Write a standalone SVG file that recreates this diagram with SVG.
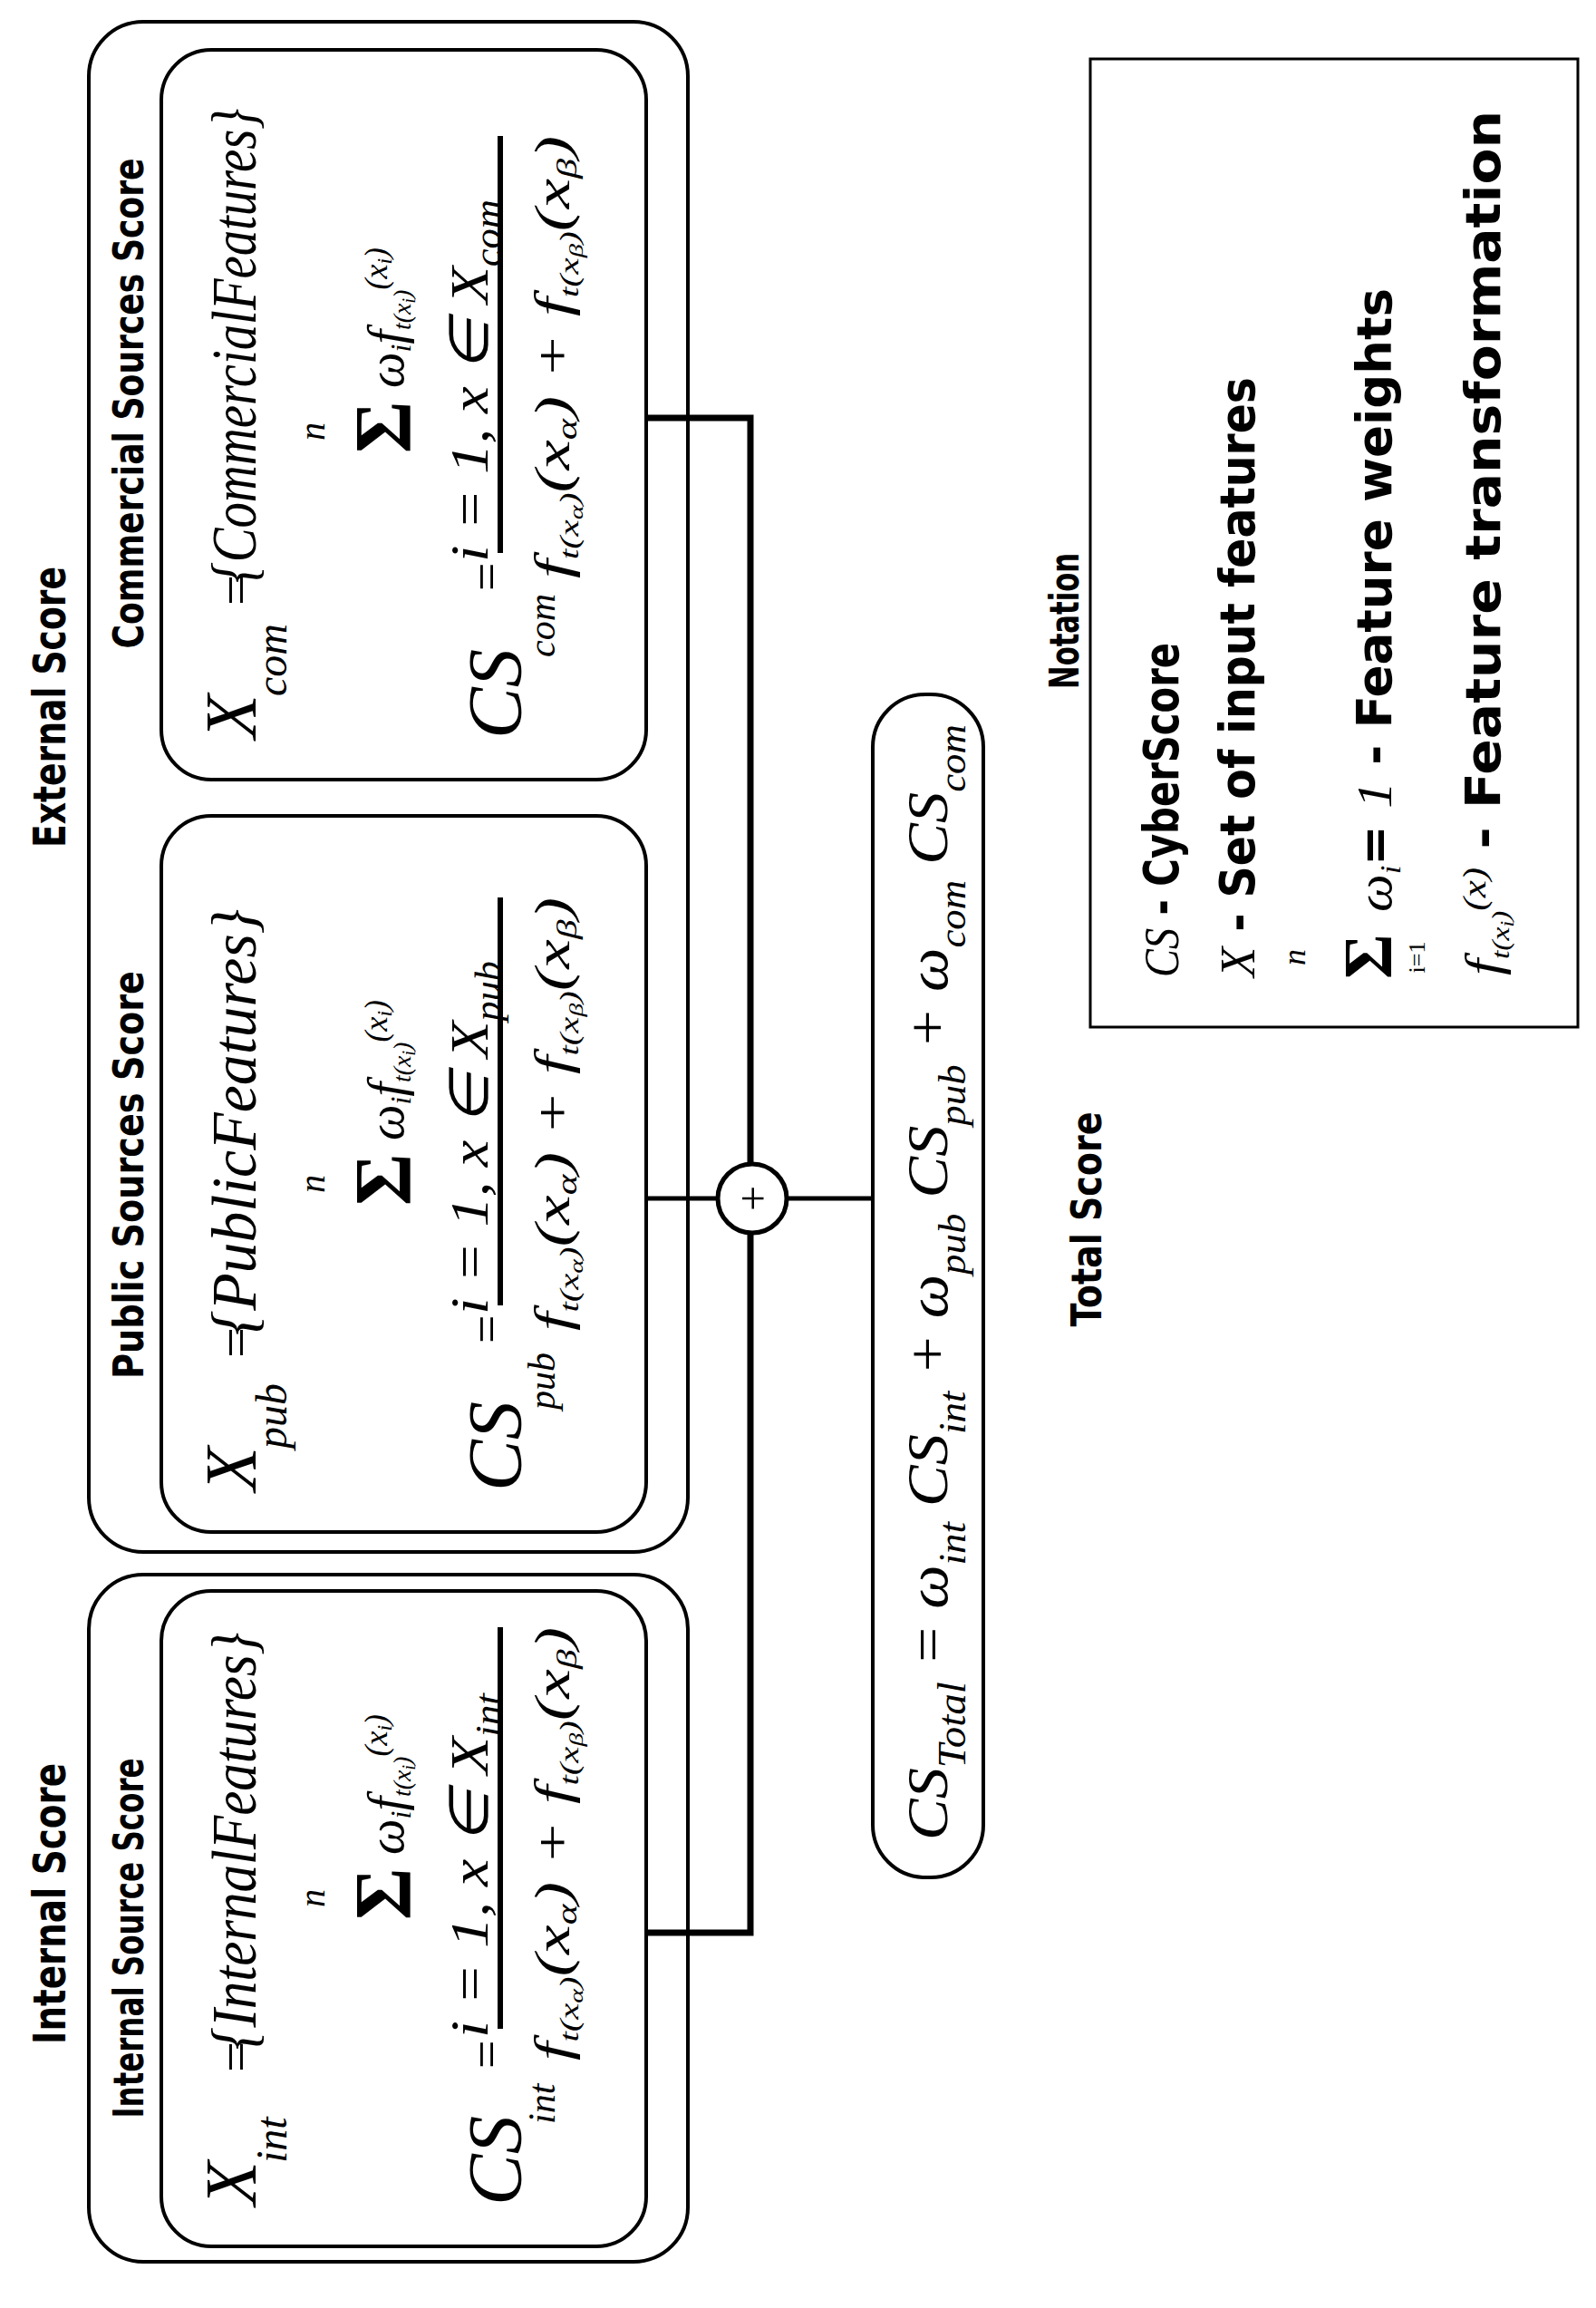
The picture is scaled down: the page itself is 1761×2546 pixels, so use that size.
<svg xmlns="http://www.w3.org/2000/svg" width="1761" height="2546" viewBox="0 0 1761 2546">
<style>
.box{fill:none;stroke:#000;stroke-width:4}
.wire{fill:none;stroke:#000;stroke-width:7}
.thin{fill:none;stroke:#000;stroke-width:5}
.m{font-family:"Liberation Serif",serif;font-style:italic;fill:#000}
.r{font-family:"Liberation Serif",serif;fill:#000}
.t{font-family:"Liberation Sans Narrow","DejaVu Sans Condensed","Liberation Sans",sans-serif;font-weight:bold;fill:#000}
</style>
<rect width="1761" height="2546" fill="#fff"/>
<g transform="translate(0,2546) rotate(-90)">
<g id="titles">
<text class="t" x="446" y="72" font-size="50" text-anchor="middle" textLength="310" lengthAdjust="spacingAndGlyphs">Internal Score</text>
<text class="t" x="1766" y="72" font-size="50" text-anchor="middle" textLength="310" lengthAdjust="spacingAndGlyphs">External Score</text>
<text class="t" x="1201" y="1215" font-size="46" text-anchor="middle" textLength="237" lengthAdjust="spacingAndGlyphs">Total Score</text>
</g>
<g id="internal">
<rect class="box" x="51" y="98" width="758" height="661" rx="60"/>
<text class="t" x="408" y="158" font-size="46" text-anchor="middle" textLength="397" lengthAdjust="spacingAndGlyphs">Internal Source Score</text>
<rect class="box" x="68" y="178" width="723" height="535" rx="55"/>
<g transform="translate(68,0)">
<text class="m" x="45" y="282" font-size="80">X</text>
<text class="m" x="92" y="316" font-size="48">int</text>
<text class="r" x="192" y="280" font-size="60">=</text>
<text class="m" x="217" y="282" font-size="70" textLength="460" lengthAdjust="spacingAndGlyphs">{InternalFeatures}</text>
<text class="m" x="384" y="358" font-size="40" text-anchor="middle">n</text>
<text class="r" x="360" y="452" font-size="88" font-weight="bold">Σ</text>
<text class="m" x="432" y="445" font-size="56">ω<tspan font-size="32" dy="8">i</tspan><tspan font-size="56" dy="-8">f</tspan><tspan font-size="28" dy="8">t(x</tspan><tspan font-size="20" dy="5">i</tspan><tspan font-size="28" dy="-5">)</tspan><tspan font-size="36" dy="-26">(x</tspan><tspan font-size="24" dy="5">i</tspan><tspan font-size="36" dy="-5">)</tspan></text>
<text class="m" x="230" y="538" font-size="60" textLength="380" lengthAdjust="spacingAndGlyphs">i = 1, x ∈ X<tspan font-size="40" dy="14">int</tspan></text>
<line x1="240" y1="552" x2="683" y2="552" stroke="#000" stroke-width="6"/>
<text class="m" x="205" y="628" font-size="54" textLength="478" lengthAdjust="spacingAndGlyphs">f<tspan font-size="30" dy="10">t(x</tspan><tspan font-size="22" dy="5">α</tspan><tspan font-size="30" dy="-5">)</tspan><tspan font-size="54" dy="-10">(x</tspan><tspan font-size="32" dy="8">α</tspan><tspan font-size="54" dy="-8">) + f</tspan><tspan font-size="30" dy="10">t(x</tspan><tspan font-size="22" dy="5">β</tspan><tspan font-size="30" dy="-5">)</tspan><tspan font-size="54" dy="-10">(x</tspan><tspan font-size="32" dy="8">β</tspan><tspan font-size="54" dy="-8">)</tspan></text>
<text class="m" x="45" y="575" font-size="85">CS</text>
<text class="m" x="135" y="612" font-size="42">int</text>
<text class="r" x="196" y="556" font-size="56">=</text>
</g>
</g>
<g id="external">
<rect class="box" x="834" y="98" width="1688" height="661" rx="60"/>
</g>
<g id="public">
<text class="t" x="1250" y="158" font-size="46" text-anchor="middle" textLength="450" lengthAdjust="spacingAndGlyphs">Public Sources Score</text>
<rect class="box" x="856" y="178" width="790" height="535" rx="55"/>
<g transform="translate(856,0)">
<text class="m" x="45" y="282" font-size="80">X</text>
<text class="m" x="92" y="316" font-size="48">pub</text>
<text class="r" x="192" y="280" font-size="60">=</text>
<text class="m" x="217" y="282" font-size="70" textLength="470" lengthAdjust="spacingAndGlyphs">{PublicFeatures}</text>
<text class="m" x="384" y="358" font-size="40" text-anchor="middle">n</text>
<text class="r" x="360" y="452" font-size="88" font-weight="bold">Σ</text>
<text class="m" x="432" y="445" font-size="56">ω<tspan font-size="32" dy="8">i</tspan><tspan font-size="56" dy="-8">f</tspan><tspan font-size="28" dy="8">t(x</tspan><tspan font-size="20" dy="5">i</tspan><tspan font-size="28" dy="-5">)</tspan><tspan font-size="36" dy="-26">(x</tspan><tspan font-size="24" dy="5">i</tspan><tspan font-size="36" dy="-5">)</tspan></text>
<text class="m" x="240" y="538" font-size="60" textLength="390" lengthAdjust="spacingAndGlyphs">i = 1, x ∈ X<tspan font-size="40" dy="14">pub</tspan></text>
<line x1="250" y1="552" x2="700" y2="552" stroke="#000" stroke-width="6"/>
<text class="m" x="222" y="628" font-size="54" textLength="478" lengthAdjust="spacingAndGlyphs">f<tspan font-size="30" dy="10">t(x</tspan><tspan font-size="22" dy="5">α</tspan><tspan font-size="30" dy="-5">)</tspan><tspan font-size="54" dy="-10">(x</tspan><tspan font-size="32" dy="8">α</tspan><tspan font-size="54" dy="-8">) + f</tspan><tspan font-size="30" dy="10">t(x</tspan><tspan font-size="22" dy="5">β</tspan><tspan font-size="30" dy="-5">)</tspan><tspan font-size="54" dy="-10">(x</tspan><tspan font-size="32" dy="8">β</tspan><tspan font-size="54" dy="-8">)</tspan></text>
<text class="m" x="45" y="575" font-size="85">CS</text>
<text class="m" x="135" y="612" font-size="42">pub</text>
<text class="r" x="208" y="556" font-size="56">=</text>
</g>
</g>
<g id="commercial">
<text class="t" x="2101" y="158" font-size="46" text-anchor="middle" textLength="541" lengthAdjust="spacingAndGlyphs">Commercial Sources Score</text>
<rect class="box" x="1686" y="178" width="805" height="535" rx="55"/>
<g transform="translate(1686,0)">
<text class="m" x="45" y="282" font-size="80">X</text>
<text class="m" x="92" y="316" font-size="48">com</text>
<text class="r" x="192" y="280" font-size="60">=</text>
<text class="m" x="217" y="282" font-size="70" textLength="523" lengthAdjust="spacingAndGlyphs">{CommercialFeatures}</text>
<text class="m" x="384" y="358" font-size="40" text-anchor="middle">n</text>
<text class="r" x="360" y="452" font-size="88" font-weight="bold">Σ</text>
<text class="m" x="432" y="445" font-size="56">ω<tspan font-size="32" dy="8">i</tspan><tspan font-size="56" dy="-8">f</tspan><tspan font-size="28" dy="8">t(x</tspan><tspan font-size="20" dy="5">i</tspan><tspan font-size="28" dy="-5">)</tspan><tspan font-size="36" dy="-26">(x</tspan><tspan font-size="24" dy="5">i</tspan><tspan font-size="36" dy="-5">)</tspan></text>
<text class="m" x="240" y="538" font-size="60" textLength="400" lengthAdjust="spacingAndGlyphs">i = 1, x ∈ X<tspan font-size="40" dy="14">com</tspan></text>
<line x1="250" y1="552" x2="710" y2="552" stroke="#000" stroke-width="6"/>
<text class="m" x="222" y="628" font-size="54" textLength="488" lengthAdjust="spacingAndGlyphs">f<tspan font-size="30" dy="10">t(x</tspan><tspan font-size="22" dy="5">α</tspan><tspan font-size="30" dy="-5">)</tspan><tspan font-size="54" dy="-10">(x</tspan><tspan font-size="32" dy="8">α</tspan><tspan font-size="54" dy="-8">) + f</tspan><tspan font-size="30" dy="10">t(x</tspan><tspan font-size="22" dy="5">β</tspan><tspan font-size="30" dy="-5">)</tspan><tspan font-size="54" dy="-10">(x</tspan><tspan font-size="32" dy="8">β</tspan><tspan font-size="54" dy="-8">)</tspan></text>
<text class="m" x="45" y="575" font-size="85">CS</text>
<text class="m" x="135" y="612" font-size="42">com</text>
<text class="r" x="208" y="556" font-size="56">=</text>
</g>
</g>
<g id="sum">
<circle class="thin" cx="1224" cy="830" r="38"/>
<text class="r" x="1224" y="848" font-size="50" text-anchor="middle">+</text>
</g>
<g id="total">
<rect class="box" x="475" y="963" width="1305" height="122" rx="58"/>
<text class="m" x="516" y="1045" font-size="64" textLength="1231" lengthAdjust="spacingAndGlyphs">CS<tspan font-size="44" dy="20">Total</tspan><tspan dy="-20"> = ω</tspan><tspan font-size="42" dy="20">int</tspan><tspan dy="-20"> CS</tspan><tspan font-size="42" dy="20">int</tspan><tspan dy="-20"> + ω</tspan><tspan font-size="42" dy="20">pub</tspan><tspan dy="-20"> CS</tspan><tspan font-size="42" dy="20">pub</tspan><tspan dy="-20"> + ω</tspan><tspan font-size="42" dy="20">com</tspan><tspan dy="-20"> CS</tspan><tspan font-size="42" dy="20">com</tspan></text>
</g>
<g id="notation">
<text class="t" x="1861" y="1190" font-size="44" text-anchor="middle" textLength="150" lengthAdjust="spacingAndGlyphs">Notation</text>
<rect x="1413" y="1203" width="1068" height="538" fill="none" stroke="#000" stroke-width="3"/>
<text class="t" x="1468" y="1300" font-size="54" textLength="369" lengthAdjust="spacingAndGlyphs"><tspan class="m" font-weight="normal">CS</tspan> - CyberScore</text>
<text class="t" x="1468" y="1384" font-size="54" textLength="662" lengthAdjust="spacingAndGlyphs"><tspan class="m" font-weight="normal">X</tspan> - Set of input features</text>
<text class="m" x="1490" y="1440" font-size="36" text-anchor="middle">n</text>
<text class="r" x="1466" y="1535" font-size="76" font-weight="bold">Σ</text>
<text class="r" x="1490" y="1572" font-size="26" text-anchor="middle">i=1</text>
<text class="t" x="1540" y="1535" font-size="54" textLength="688" lengthAdjust="spacingAndGlyphs"><tspan class="m" font-weight="normal">ω</tspan><tspan class="m" font-weight="normal" font-size="32" dy="10">i</tspan><tspan dy="-10">= </tspan><tspan class="m" font-weight="normal">1</tspan> - Feature weights</text>
<text class="t" x="1470" y="1655" font-size="54" textLength="954" lengthAdjust="spacingAndGlyphs"><tspan class="m" font-weight="normal">f</tspan><tspan class="m" font-weight="normal" font-size="28" dy="10">t(x</tspan><tspan class="m" font-weight="normal" font-size="20" dy="5">i</tspan><tspan class="m" font-weight="normal" font-size="28" dy="-5">)</tspan><tspan class="m" font-weight="normal" font-size="36" dy="-26">(x)</tspan><tspan dy="16"> - Feature transformation</tspan></text>
</g>
<g id="connectors">
<polyline class="wire" points="414,713 414,828 1186,828"/>
<polyline class="wire" points="1262,828 2085,828 2085,713"/>
<line class="thin" x1="1224" y1="713" x2="1224" y2="792"/>
<line class="thin" x1="1224" y1="868" x2="1224" y2="963"/>
</g>
</g>
</svg>
